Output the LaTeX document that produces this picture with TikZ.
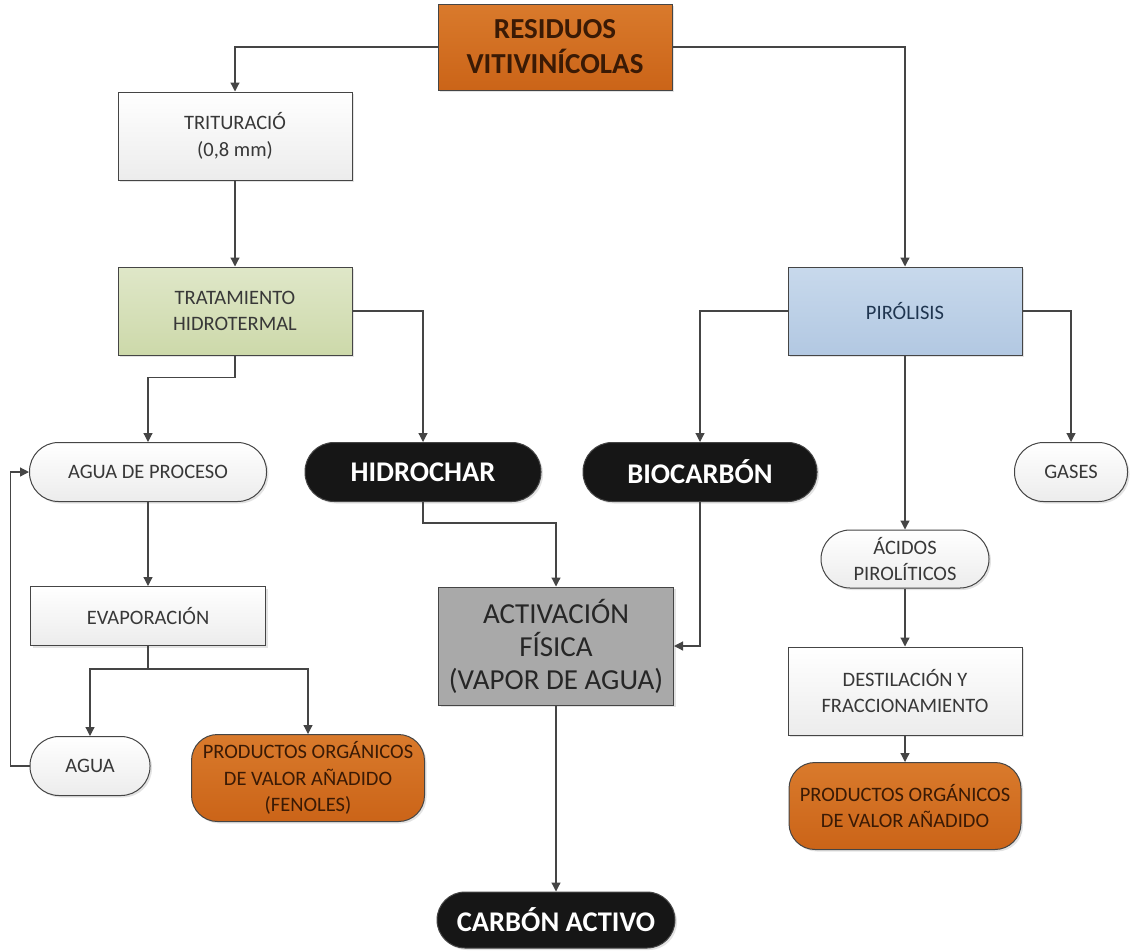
\documentclass[tikz,border=0pt]{standalone}
\usepackage{fontspec}
\setmainfont{Carlito}
\usetikzlibrary{arrows.meta,shadows}
\definecolor{lineg}{HTML}{454545}
\definecolor{txtg}{HTML}{383838}
\definecolor{orT}{HTML}{D97A2C}
\definecolor{orB}{HTML}{CB6418}
\definecolor{orTxt}{HTML}{3A1A05}
\definecolor{grT}{HTML}{DFE7C8}
\definecolor{grB}{HTML}{CDD9AA}
\definecolor{blT}{HTML}{C8D9EC}
\definecolor{blB}{HTML}{B2C8E2}
\definecolor{blTxt}{HTML}{1F3550}
\definecolor{wB}{HTML}{ECECEC}
\definecolor{blk}{HTML}{161616}
\definecolor{actg}{HTML}{A9A9A9}
\tikzset{
  base/.style={draw=lineg, line width=1pt, align=center, inner sep=2pt,
    drop shadow={opacity=0.22, shadow xshift=2pt, shadow yshift=-2pt}},
  small/.style={font=\fontsize{20.5}{26.5}\selectfont, text=txtg},
  wbox/.style={base, small, top color=white, bottom color=wB},
  wpill/.style={wbox, rounded corners=29pt},
  obox/.style={base, top color=orT, bottom color=orB, rounded corners=26pt,
    font=\fontsize{20.5}{26.5}\selectfont, text=orTxt},
  bpill/.style={base, fill=blk, rounded corners=29pt,
    font=\fontsize{28.5}{34}\selectfont\bfseries, text=white},
  arr/.style={draw=lineg, line width=1.2pt, -{Triangle[width=9pt,length=9pt]}}
}
\begin{document}
\begin{tikzpicture}[x=1pt,y=-1pt]
\useasboundingbox (0,0) rectangle (1134,951);
% nodes
\node[base, top color=orT, bottom color=orB, minimum width=234pt, minimum height=86pt,
  font=\fontsize{29}{35}\selectfont\bfseries, text=orTxt] (res) at (555,47) {RESIDUOS\\VITIVINÍCOLAS};
\node[wbox, minimum width=234pt, minimum height=88pt] (tri) at (235,136) {TRITURACIÓ\\(0,8 mm)};
\node[base, small, top color=grT, bottom color=grB, minimum width=234pt, minimum height=88pt] (tra) at (235,311) {TRATAMIENTO\\HIDROTERMAL};
\node[base, top color=blT, bottom color=blB, minimum width=234pt, minimum height=88pt,
  font=\fontsize{20.5}{26.5}\selectfont, text=blTxt] (pir) at (905,311) {PIRÓLISIS};
\node[wpill, minimum width=237pt, minimum height=59pt] (agp) at (148,472) {AGUA DE PROCESO};
\node[bpill, minimum width=236pt, minimum height=59pt] (hid) at (423,472) {HIDROCHAR};
\node[bpill, minimum width=234pt, minimum height=59pt] (bio) at (700,472) {BIOCARBÓN};
\node[wpill, minimum width=113pt, minimum height=59pt] (gas) at (1071,472) {GASES};
\node[wpill, minimum width=168pt, minimum height=58pt] (aci) at (905,559) {ÁCIDOS\\PIROLÍTICOS};
\node[wbox, minimum width=234pt, minimum height=88pt] (des) at (905,691) {DESTILACIÓN Y\\FRACCIONAMIENTO};
\node[obox, minimum width=232pt, minimum height=87pt] (pr2) at (905,806) {PRODUCTOS ORGÁNICOS\\DE VALOR AÑADIDO};
\node[base, fill=actg, minimum width=235pt, minimum height=118pt,
  font=\fontsize{29}{33}\selectfont, text=black!85] (act) at (556,646) {ACTIVACIÓN\\FÍSICA\\(VAPOR DE AGUA)};
\node[bpill, minimum width=238pt, minimum height=56pt, rounded corners=28pt] (car) at (556,920) {CARBÓN ACTIVO};
\node[wbox, minimum width=235pt, minimum height=59pt] (eva) at (148,616) {EVAPORACIÓN};
\node[wpill, minimum width=120pt, minimum height=59pt] (agu) at (90,766) {AGUA};
\node[obox, minimum width=233pt, minimum height=87pt] (pr1) at (308,778) {PRODUCTOS ORGÁNICOS\\DE VALOR AÑADIDO\\(FENOLES)};
% connectors
\draw[arr] (res.west) -| (tri.north);
\draw[arr] (res.east) -| (pir.north);
\draw[arr] (tri.south) -- (tra.north);
\draw[arr] (tra.east) -| (hid.north);
\draw[arr] (tra.south) -- ++(0,22) -| (agp.north);
\draw[arr] (pir.west) -| (bio.north);
\draw[arr] (pir.east) -| (gas.north);
\draw[arr] (pir.south) -- (aci.north);
\draw[arr] (aci.south) -- (des.north);
\draw[arr] (des.south) -- (pr2.north);
\draw[arr] (hid.south) -- ++(0,21) -| (act.north);
\draw[arr] (bio.south) |- (act.east);
\draw[arr] (act.south) -- (car.north);
\draw[arr] (agp.south) -- (eva.north);
\draw[arr] (eva.south) -- ++(0,23) -| (agu.north);
\draw[arr] (eva.south) -- ++(0,23) -| (pr1.north);
\draw[arr] (agu.west) -- ++(-19,0) |- (agp.west);
\end{tikzpicture}
\end{document}
